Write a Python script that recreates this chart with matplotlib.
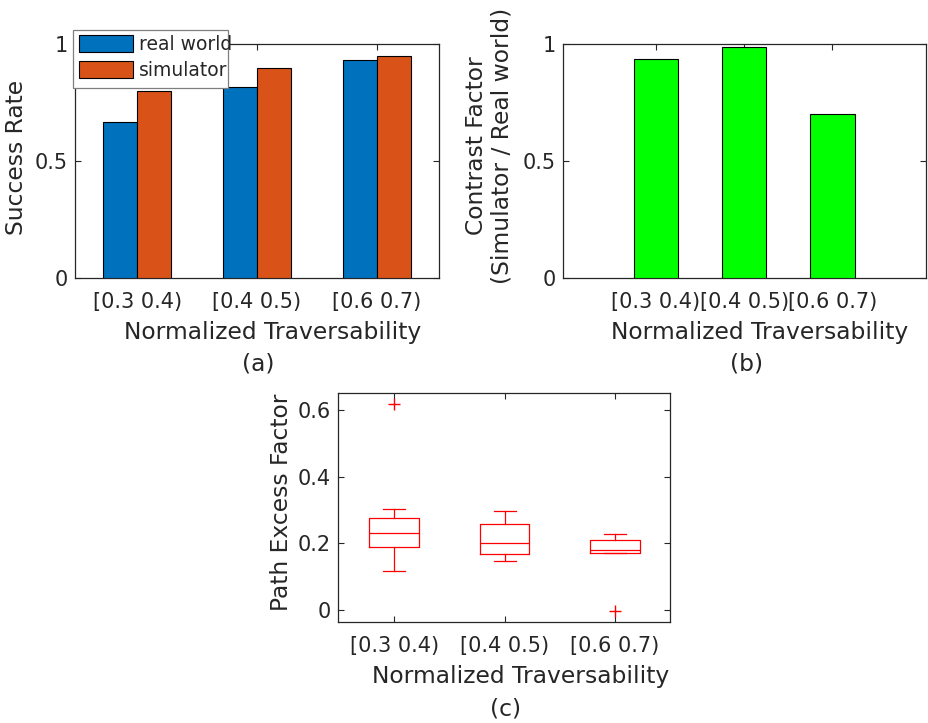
import numpy as np
import matplotlib
matplotlib.use('Agg')
import matplotlib.pyplot as plt
from matplotlib.patches import Rectangle

# data
groups = ['[0.3 0.4)', '[0.4 0.5)', '[0.6 0.7)']
real_world = [0.667, 0.818, 0.930]
simulator = [0.800, 0.897, 0.947]
contrast = [0.937, 0.986, 0.702]

# boxplot summary for path excess factor
box_q1 = [0.189, 0.169, 0.172]
box_med = [0.232, 0.200, 0.179]
box_q3 = [0.275, 0.258, 0.209]
box_wlo = [0.117, 0.146, 0.172]
box_whi = [0.302, 0.298, 0.229]
box_fliers = [[0.618], [], [-0.003]]

W, H = 929, 723
TXT = '#262626'
BLUE = '#0072BD'
ORANGE = '#D95319'
GREEN = '#00FF00'
LBL = 16.8

plt.rcParams['font.family'] = 'DejaVu Sans'
plt.rcParams['text.color'] = TXT
plt.rcParams['axes.edgecolor'] = TXT
plt.rcParams['xtick.color'] = TXT
plt.rcParams['ytick.color'] = TXT

fig = plt.figure(figsize=(W / 100, H / 100), dpi=100)


def px_axes(l, t, r, b):
    return fig.add_axes([l / W, 1 - b / H, (r - l) / W, (b - t) / H])


def ftext(x, y, s, **kw):
    fig.text(x / W, 1 - y / H, s, ha='center', va='center', **kw)


def style(ax, xpad=10):
    ax.tick_params(direction='in', top=True, right=True, length=4,
                   width=0.8, labelsize=15)
    ax.tick_params(axis='x', pad=xpad)
    ax.tick_params(axis='y', pad=5)
    for s in ax.spines.values():
        s.set_linewidth(0.9)


x = np.arange(1, len(groups) + 1)

# (a) success rate
ax1 = px_axes(75, 44, 439, 278)
bw = 0.285
ax1.bar(x - bw / 2, real_world, bw, color=BLUE, edgecolor='black',
        linewidth=0.8, label='real world', zorder=3)
ax1.bar(x + bw / 2, simulator, bw, color=ORANGE, edgecolor='black',
        linewidth=0.8, label='simulator', zorder=3)
ax1.set_xlim(0.48, 3.52)
ax1.set_ylim(0, 1)
ax1.set_xticks(x)
ax1.set_xticklabels(groups)
ax1.set_yticks([0, 0.5, 1])
ax1.set_yticklabels(['0', '0.5', '1'])
style(ax1)
# legend box drawn by hand: the text runs past the frame like in the original
frame = Rectangle((73.5 / W, 1 - 88.3 / H), 154.2 / W, 58.3 / H,
                  transform=fig.transFigure, facecolor='white',
                  edgecolor='#7f7f7f', linewidth=0.9, clip_on=False, zorder=4)
ax1.add_patch(frame)
leg = ax1.legend(loc='upper left', bbox_to_anchor=(73.5 / W, 1 - 29 / H),
                 bbox_transform=fig.transFigure, borderaxespad=0,
                 fontsize=13.5, frameon=False, handlelength=2.9,
                 handleheight=1.04, handletextpad=0.27, labelspacing=0.38,
                 borderpad=0.3)
leg.set_zorder(5)
ftext(17, 157, 'Success Rate', fontsize=LBL, rotation=90)
ftext(272.5, 333, 'Normalized Traversability', fontsize=LBL)
ftext(258, 364, '(a)', fontsize=LBL)

# (b) contrast factor
ax2 = px_axes(563, 44, 926, 278)
ax2.bar(x, contrast, 0.5, color=GREEN, edgecolor='black', linewidth=0.8,
        zorder=3)
ax2.set_xlim(1 - 1.053, 3 + 1.06)
ax2.set_ylim(0, 1)
ax2.set_xticks(x)
ax2.set_xticklabels(groups)
ax2.set_yticks([0, 0.5, 1])
ax2.set_yticklabels(['0', '0.5', '1'])
style(ax2)
ftext(489, 146, 'Contrast Factor\n(Simulator / Real world)', fontsize=LBL,
      rotation=90, multialignment='center', linespacing=1.12)
ftext(760, 333, 'Normalized Traversability', fontsize=LBL)
ftext(747, 364, '(b)', fontsize=LBL)

# (c) path excess factor
ax3 = px_axes(338, 393, 670, 622)
stats = []
for i in range(len(groups)):
    stats.append(dict(med=box_med[i], q1=box_q1[i], q3=box_q3[i],
                      whislo=box_wlo[i], whishi=box_whi[i],
                      fliers=box_fliers[i]))
red = dict(color='red', linewidth=0.9)
ax3.bxp(stats, positions=x, widths=0.45, capwidths=0.2,
        boxprops=red, whiskerprops=red, capprops=red, medianprops=red,
        flierprops=dict(marker='+', markeredgecolor='red', markersize=8,
                        linestyle='none'))
ax3.set_xlim(0.49, 3.5)
ax3.set_ylim(-0.036, 0.651)
ax3.set_xticks(x)
ax3.set_xticklabels(groups)
ax3.set_yticks([0, 0.2, 0.4, 0.6])
ax3.set_yticklabels(['0', '0.2', '0.4', '0.6'])
style(ax3, xpad=10)
ftext(281, 502, 'Path Excess Factor', fontsize=LBL, rotation=90)
ftext(520.5, 677, 'Normalized Traversability', fontsize=LBL)
ftext(506, 709, '(c)', fontsize=LBL)

fig.savefig('out.png', dpi=100, facecolor='white')
